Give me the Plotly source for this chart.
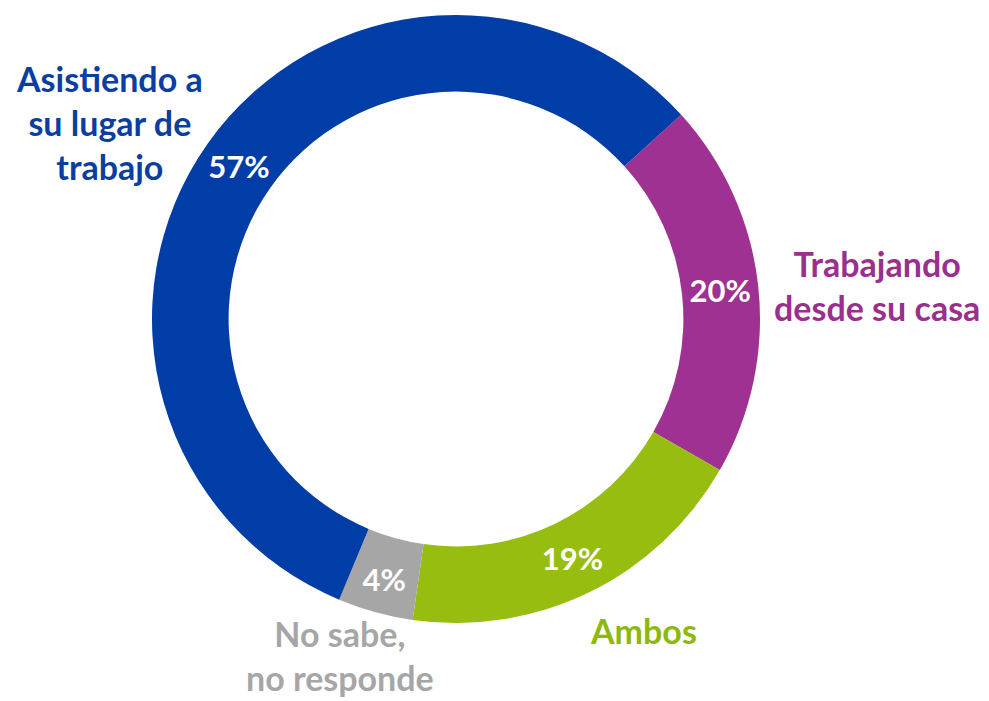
import plotly.graph_objects as go

categories = ["Trabajando desde su casa", "Ambos", "No sabe, no responde", "Asistiendo a su lugar de trabajo"]
values = [20, 19, 4, 57]
pct_labels = ["20%", "19%", "4%", "57%"]
slice_colors = ["#9E3192", "#97BD10", "#A6A6A6", "#003DA6"]

outer_labels = ["Trabajando<br>desde su casa", "Ambos", "No sabe,<br>no responde", "Asistiendo a<br>su lugar de<br>trabajo"]
label_colors = ["#9B2F8E", "#8DB80C", "#A6A6A6", "#0A3EA0"]
label_pos = [(877, 285), (643, 630), (340, 655), (109, 123)]

W, H = 989, 701
OFF = 8  # page body margin
cx, cy, r = 456 - OFF, 319 - OFF, 304

fig = go.Figure()
fig.add_trace(go.Pie(
    labels=categories,
    values=values,
    text=pct_labels,
    textinfo="text",
    textposition="inside",
    insidetextorientation="horizontal",
    insidetextfont=dict(family="Lato", size=31, color="white", weight="bold"),
    marker=dict(colors=slice_colors, line=dict(width=0)),
    hole=0.748,
    sort=False,
    direction="clockwise",
    rotation=47.8,
    showlegend=False,
    hoverinfo="label+percent",
    domain=dict(x=[(cx - r) / W, (cx + r) / W], y=[(H - cy - r) / H, (H - cy + r) / H]),
))

for txt, col, (x, y) in zip(outer_labels, label_colors, label_pos):
    fig.add_annotation(
        text=txt, x=(x - OFF) / W, y=1 - (y - OFF) / H, xref="paper", yref="paper",
        xanchor="center", yanchor="middle", showarrow=False, align="center",
        font=dict(family="Lato", size=34, color=col, weight="bold"),
    )

fig.update_layout(
    width=W, height=H,
    margin=dict(l=0, r=0, t=0, b=0),
    paper_bgcolor="white", plot_bgcolor="white",
)

fig.write_html("out.html")
